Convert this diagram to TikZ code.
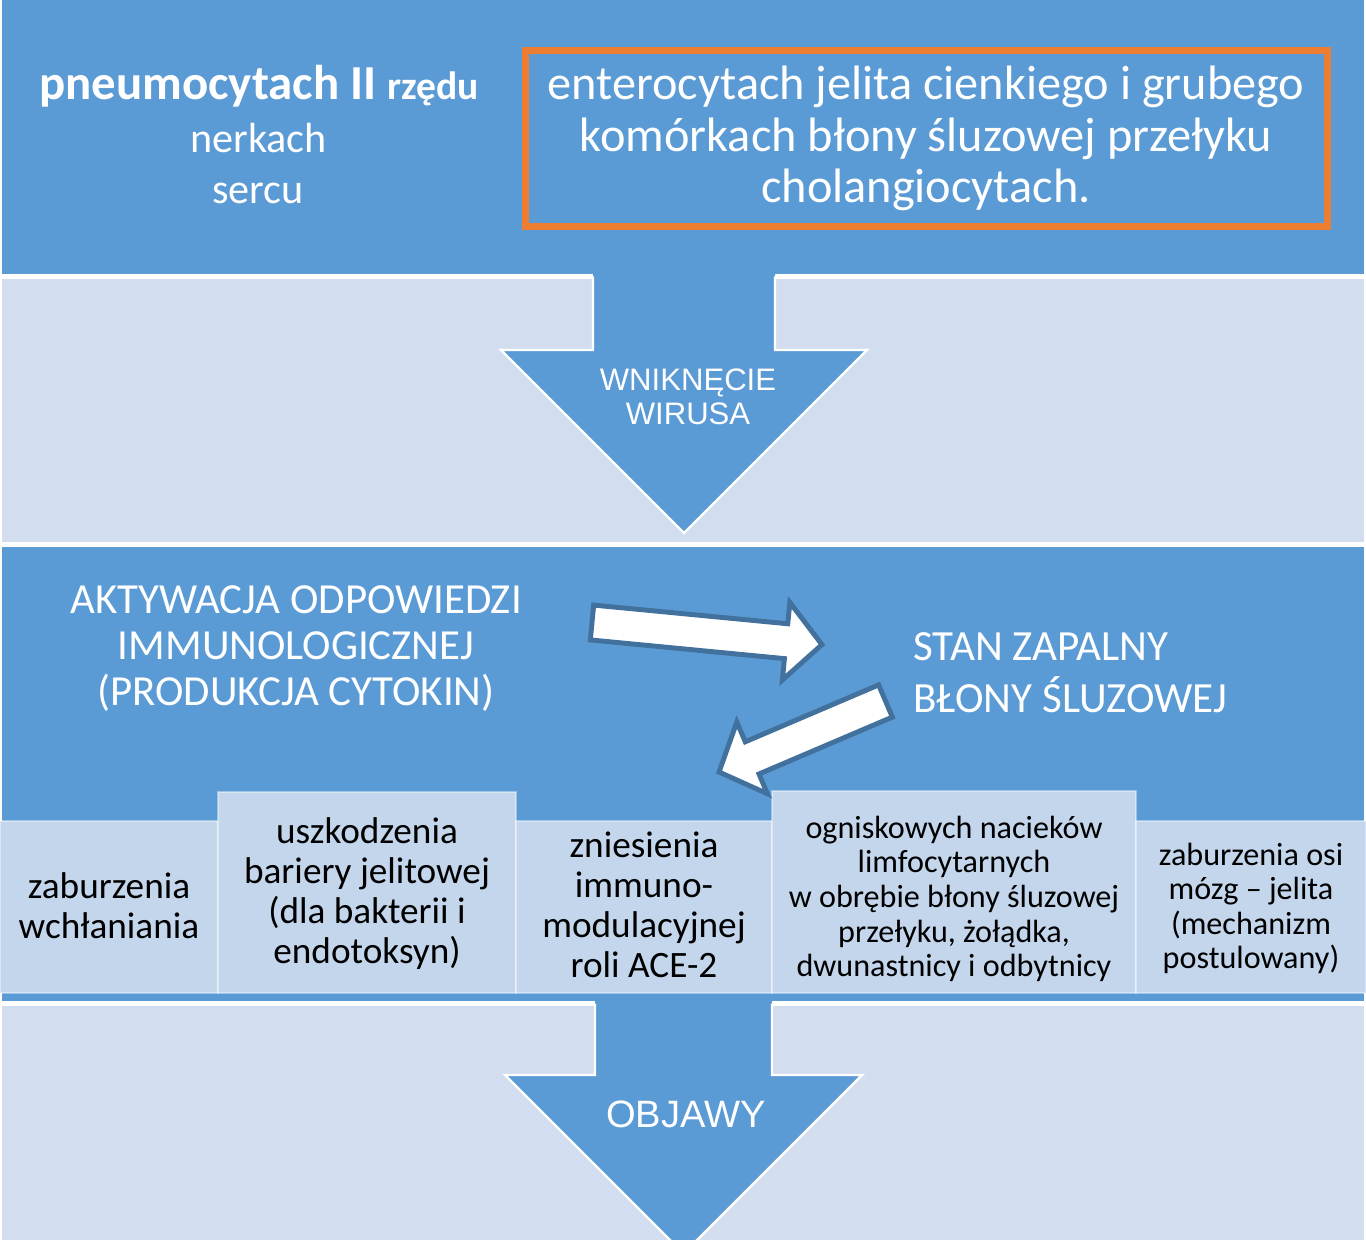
\documentclass[tikz,border=0pt]{standalone}
\usepackage{fontspec}
\setmainfont{Carlito}
\newfontfamily\arialf{Liberation Sans}
\definecolor{bandblue}{HTML}{5B9BD5}
\definecolor{bandlight}{HTML}{D2DEEF}
\definecolor{boxlight}{HTML}{C3D6EC}
\definecolor{arrowline}{HTML}{41719C}
\definecolor{frameorange}{HTML}{ED7D31}
\begin{document}
\begin{tikzpicture}[x=0.02cm,y=-0.02cm,
  bandedge/.style={draw=white, line width=1.4pt},
  rowbox/.style={fill=boxlight, draw=white, draw opacity=0.4, line width=0.8pt},
  bigarrow/.style={fill=bandblue},
  bigarrowedge/.style={draw=white, line width=1.4pt, line join=miter},
  blockarrow/.style={fill=white, draw=arrowline, line width=2.8pt, line join=miter},
  wtxt/.style={text=white, inner sep=0pt, anchor=base},
  btxt/.style={text=black, inner sep=0pt, anchor=base},
  bigtxt/.style={font=\fontsize{24}{29}\selectfont},
  frametxt/.style={font=\fontsize{27.5}{30}\selectfont},
  stantxt/.style={font=\fontsize{24.5}{29}\selectfont},
  midtxt/.style={font=\fontsize{24.4}{27}\selectfont},
  boxtxt/.style={font=\fontsize{21.2}{23}\selectfont},
  smalltxt/.style={font=\fontsize{18.3}{20}\selectfont}]
\clip (0,0) rectangle (1366,1240);
\fill[bandlight] (0,0) rectangle (1366,1240);
% bands
\filldraw[fill=bandblue, bandedge] (0.7,-5) rectangle (1365.3,275.5);
\filldraw[fill=bandlight, bandedge] (0.7,277.5) rectangle (1365.3,543.5);
\filldraw[fill=bandblue, bandedge] (0.7,545.5) rectangle (1365.3,1002.5);
\filldraw[fill=bandlight, bandedge] (0.7,1004.5) rectangle (1365.3,1260);
% top down arrow
\fill[bigarrow] (593,268) -- (593,350) -- (501,350) -- (684,533) -- (867,350) -- (775,350) -- (775,268) -- cycle;
\draw[bigarrowedge] (593,276.5) -- (593,350) -- (501,350) -- (684,533) -- (867,350) -- (775,350) -- (775,276.5);
% bottom down arrow
\fill[bigarrow] (595,996) -- (595,1075) -- (505,1075) -- (683.5,1253.5) -- (862,1075) -- (772,1075) -- (772,996) -- cycle;
\draw[bigarrowedge] (595,1003.5) -- (595,1075) -- (505,1075) -- (683.5,1253.5) -- (862,1075) -- (772,1075) -- (772,1003.5);
% orange frame
\draw[frameorange, line width=3.5pt] (525.5,50.5) rectangle (1327.5,226.5);
% row of boxes
\filldraw[rowbox] (0.5,821) rectangle (218,993);
\filldraw[rowbox] (218,792) rectangle (516,993);
\filldraw[rowbox] (516,821) rectangle (772,993);
\filldraw[rowbox] (772,791) rectangle (1136,993);
\filldraw[rowbox] (1136,821) rectangle (1365.5,993);
% white block arrows
\begin{scope}[shift={(592,622.5)}, rotate=-5.5]
  \draw[blockarrow] (0,-17.5) -- (195,-17.5) -- (195,-39) -- (231,0) -- (195,39) -- (195,17.5) -- (0,17.5) -- cycle;
\end{scope}
\begin{scope}[shift={(885.5,701)}, rotate=-156.9]
  \draw[blockarrow] (0,-17.5) -- (145,-17.5) -- (145,-39) -- (181,0) -- (145,39) -- (145,17.5) -- (0,17.5) -- cycle;
\end{scope}
% top band texts
\node[wtxt, font=\bfseries] (pneumo) at (259,100) {\fontsize{27.8}{31}\selectfont pneumocytach II \fontsize{22.5}{26}\selectfont rzędu};
\node[wtxt, bigtxt] (nerkach) at (258.5,153) {nerkach};
\node[wtxt, bigtxt] (sercu) at (258,204) {sercu};
\node[wtxt, frametxt] (entero) at (926,100) {enterocytach jelita cienkiego i grubego};
\node[wtxt, frametxt] (komorki) at (926,152) {komórkach błony śluzowej przełyku};
\node[wtxt, frametxt] (cholang) at (926,203) {cholangiocytach.};
% arrow labels
\node[wtxt, font=\arialf\fontsize{17.7}{20}\selectfont] (wnik1) at (688,390) {WNIKNĘCIE};
\node[wtxt, font=\arialf\fontsize{17.7}{20}\selectfont] (wnik2) at (688,424) {WIRUSA};
\node[wtxt, font=\arialf\fontsize{21.7}{24}\selectfont] (objawy) at (686,1127) {OBJAWY};
% middle band texts
\node[wtxt, midtxt] (akt1) at (296,613) {AKTYWACJA ODPOWIEDZI};
\node[wtxt, midtxt] (akt2) at (296,659) {IMMUNOLOGICZNEJ};
\node[wtxt, midtxt] (akt3) at (296,705) {(PRODUKCJA CYTOKIN)};
\node[wtxt, stantxt, anchor=base west] (stan1) at (913,660) {STAN ZAPALNY};
\node[wtxt, stantxt, anchor=base west] (stan2) at (913,712) {BŁONY ŚLUZOWEJ};
% box texts
\node[btxt, boxtxt] (b1a) at (109,898) {zaburzenia};
\node[btxt, boxtxt] (b1b) at (109,938) {wchłaniania};
\node[btxt, boxtxt] (b2a) at (367,843) {uszkodzenia};
\node[btxt, boxtxt] (b2b) at (367,883) {bariery jelitowej};
\node[btxt, boxtxt] (b2c) at (367,923) {(dla bakterii i};
\node[btxt, boxtxt] (b2d) at (367,963) {endotoksyn)};
\node[btxt, boxtxt] (b3a) at (644,857) {zniesienia};
\node[btxt, boxtxt] (b3b) at (644,897) {immuno-};
\node[btxt, boxtxt] (b3c) at (644,937) {modulacyjnej};
\node[btxt, boxtxt] (b3d) at (644,977) {roli ACE-2};
\node[btxt, smalltxt] (b4a) at (954,838) {ogniskowych nacieków};
\node[btxt, smalltxt] (b4b) at (954,872) {limfocytarnych};
\node[btxt, smalltxt] (b4c) at (954,907) {w obrębie błony śluzowej};
\node[btxt, smalltxt] (b4d) at (954,942) {przełyku, żołądka,};
\node[btxt, smalltxt] (b4e) at (954,976) {dwunastnicy i odbytnicy};
\node[btxt, smalltxt] (b5a) at (1251,865) {zaburzenia osi};
\node[btxt, smalltxt] (b5b) at (1251,899) {mózg – jelita};
\node[btxt, smalltxt] (b5c) at (1251,934) {(mechanizm};
\node[btxt, smalltxt] (b5d) at (1251,968) {postulowany)};
\end{tikzpicture}
\end{document}
